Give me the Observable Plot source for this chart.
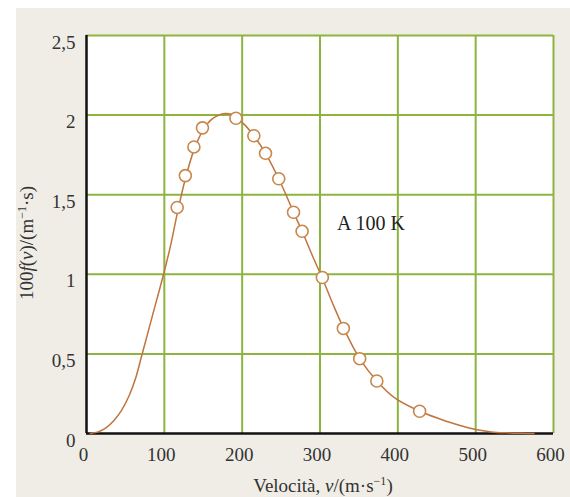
<!DOCTYPE html>
<html>
<head>
<meta charset="utf-8">
<script src="https://cdn.jsdelivr.net/npm/d3@7"></script>
<script src="https://cdn.jsdelivr.net/npm/@observablehq/plot@0.6"></script>
<style>
  html, body { margin: 0; padding: 0; background: #ffffff; }
  #wrap { position: absolute; left: 16px; top: 8px; width: 554px; height: 489px; background: #f0ede6; }
</style>
</head>
<body>
<div id="wrap"></div>
<script>
// Curve
const curveV = [5, 15, 25, 35, 45, 55, 63, 71, 85, 99, 108, 116.5, 127, 138, 149, 160, 170, 178, 186, 192, 203, 215, 230, 247, 266, 277, 290, 303, 316, 330, 351, 373, 397, 428, 455, 480, 500, 520, 540, 560, 575];
const curveF = [0, 0.01, 0.035, 0.08, 0.145, 0.24, 0.345, 0.49, 0.745, 1.0, 1.18, 1.38, 1.6, 1.78, 1.9, 1.97, 2.0, 2.01, 2.005, 1.985, 1.94, 1.87, 1.76, 1.6, 1.39, 1.27, 1.12, 0.975, 0.82, 0.665, 0.47, 0.33, 0.22, 0.14, 0.09, 0.05, 0.025, 0.01, 0.004, 0.001, 0];
// Measured points
const pointV = [116.5, 127, 138, 149, 192, 215, 230, 247, 266, 277, 303, 330, 351, 373, 428];
const pointF = [1.42, 1.62, 1.80, 1.92, 1.98, 1.87, 1.76, 1.60, 1.39, 1.27, 0.98, 0.66, 0.47, 0.33, 0.14];
// Ticks
const xTicks = [0, 100, 200, 300, 400, 500, 600];
const yTicks = [0, 0.5, 1, 1.5, 2, 2.5];
// Annotation
const labelText = "A 100 K";
const labelV = 322;
const labelF = 1.32;

const curve = curveV.map((v, i) => ({v, f: curveF[i]}));
const points = pointV.map((v, i) => ({v, f: pointF[i]}));

const green = "#8db43f";
const brown = "#c0743e";

const svg = Plot.plot({
  width: 554,
  height: 489,
  marginLeft: 70,
  marginTop: 27,
  marginRight: 17,
  marginBottom: 64,
  style: {background: "#f0ede6", fontFamily: "Liberation Serif", fontSize: "19px", color: "#333"},
  x: {domain: [0, 600]},
  y: {domain: [0, 2.5]},
  marks: [
    Plot.frame({fill: "white", stroke: null}),
    Plot.gridX(xTicks.filter(d => d > 0), {stroke: green, strokeOpacity: 1, strokeWidth: 2}),
    Plot.gridY(yTicks.filter(d => d > 0), {stroke: green, strokeOpacity: 1, strokeWidth: 2}),
    Plot.ruleX([0], {stroke: "#111", strokeWidth: 2.5}),
    Plot.ruleY([0], {stroke: "#111", strokeWidth: 2.5}),
    Plot.axisX(xTicks, {tickSize: 0, tickPadding: 14, label: null, dx: -3, fontSize: 19, fill: "#333"}),
    Plot.axisY(yTicks, {tickSize: 0, tickPadding: 11, label: null, dy: 7, fontSize: 19, fill: "#333",
      tickFormat: d => String(d).replace(".", ",")}),
    Plot.line(curve, {x: "v", y: "f", curve: "catmull-rom", stroke: brown, strokeWidth: 1.5}),
    Plot.dot(points, {x: "v", y: "f", r: 6, fill: "white", stroke: "#c8874c", strokeWidth: 1.6}),
    Plot.text([{v: labelV, f: labelF, t: labelText}], {x: "v", y: "f", text: "t", textAnchor: "start", lineAnchor: "middle", fontSize: 20, fill: "#222"})
  ]
});

const s = d3.select(svg);
// X title
const xt = s.append("text")
  .attr("x", 307).attr("y", 484)
  .attr("text-anchor", "middle")
  .attr("font-family", "Liberation Serif")
  .attr("font-size", 19)
  .attr("fill", "#333");
xt.append("tspan").text("Velocità, ");
xt.append("tspan").attr("font-style", "italic").text("v");
xt.append("tspan").text("/(m·s");
xt.append("tspan").attr("font-size", 12).attr("dy", -7).text("−1");
xt.append("tspan").attr("dy", 7).text(")");

// Y title
const yt = s.append("text")
  .attr("transform", "translate(17,235) rotate(-90)")
  .attr("text-anchor", "middle")
  .attr("font-family", "Liberation Serif")
  .attr("font-size", 19)
  .attr("fill", "#333");
yt.append("tspan").text("100");
yt.append("tspan").attr("font-style", "italic").text("f");
yt.append("tspan").text("(");
yt.append("tspan").attr("font-style", "italic").text("v");
yt.append("tspan").text(")/(m");
yt.append("tspan").attr("font-size", 12).attr("dy", -7).text("−1");
yt.append("tspan").attr("dy", 7).text("·s)");

document.getElementById("wrap").appendChild(svg);
</script>
</body>
</html>
